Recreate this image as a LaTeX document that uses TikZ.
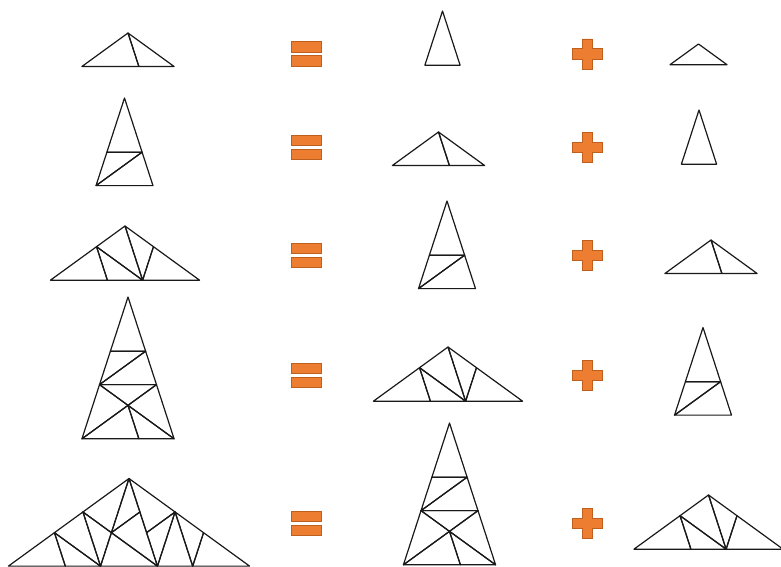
\documentclass[tikz,border=0pt]{standalone}
\usepackage{tikz}
\usetikzlibrary{calc}
\definecolor{signfill}{HTML}{ED7D31}
\definecolor{signdraw}{HTML}{BE5F1E}

% golden triangle: level, apex, base corner, base corner
\newcommand{\goldtri}[4]{%
  \ifnum#1<3\relax
    \draw[tri] (#2) -- (#3) -- (#4) -- cycle;%
  \else
    \coordinate (e#1) at ($(#2)!0.618034!(#4)$);%
    \expandafter\gnomontri\expandafter{\the\numexpr#1-1\relax}{e#1}{#2}{#3}%
    \expandafter\goldtri\expandafter{\the\numexpr#1-2\relax}{#3}{#4}{e#1}%
  \fi}

% golden gnomon: level, apex, base corner, base corner
\newcommand{\gnomontri}[4]{%
  \ifnum#1<3\relax
    \draw[tri] (#2) -- (#3) -- (#4) -- cycle;%
  \else
    \coordinate (d#1) at ($(#3)!0.618034!(#4)$);%
    \expandafter\goldtri\expandafter{\the\numexpr#1-1\relax}{#3}{d#1}{#2}%
    \expandafter\gnomontri\expandafter{\the\numexpr#1-2\relax}{d#1}{#4}{#2}%
  \fi}

% name, level, centre x, apex y
\newcommand{\placetri}[4]{%
  \ifcase#2\or\def\triB{28.48}\def\triH{20.69}%
  \or\def\triB{17.6}\def\triH{54.17}%
  \or\def\triB{46.08}\def\triH{33.48}%
  \or\def\triB{28.48}\def\triH{87.64}%
  \or\def\triB{74.55}\def\triH{54.17}%
  \or\def\triB{46.08}\def\triH{141.81}%
  \or\def\triB{120.63}\def\triH{87.64}\fi
  \coordinate (#1a) at (#3,#4);
  \coordinate (#1l) at (#3-\triB,#4+\triH);
  \coordinate (#1r) at (#3+\triB,#4+\triH);
  \ifodd#2\relax\gnomontri{#2}{#1a}{#1l}{#1r}\else\goldtri{#2}{#1a}{#1l}{#1r}\fi}

\begin{document}
\begin{tikzpicture}[x=1pt, y=-1pt,
    tri/.style={draw=black!90, line width=1.2pt, line join=round},
    sign/.style={fill=signfill, draw=signdraw, line width=0.8pt}]
    \useasboundingbox (0,0) rectangle (781,567);

    % row 1
    \placetri{a1}{3}{128}{33}
    \placetri{b1}{2}{442.5}{11}
    \placetri{c1}{1}{698.5}{44}
    % row 2
    \placetri{a2}{4}{124.5}{98}
    \placetri{b2}{3}{438.5}{132}
    \placetri{c2}{2}{699}{110}
    % row 3
    \placetri{a3}{5}{125}{226}
    \placetri{b3}{4}{447}{201}
    \placetri{c3}{3}{711}{240}
    % row 4
    \placetri{a4}{6}{128}{297}
    \placetri{b4}{5}{448}{347}
    \placetri{c4}{4}{703}{327.5}
    % row 5
    \placetri{a5}{7}{129}{478.5}
    \placetri{b5}{6}{449.5}{423}
    \placetri{c5}{5}{708.5}{495}

    % equals and plus signs
    \foreach \yc in {54,147.5,255.5,375.5,523.5} {
        \draw[sign] (291.7,\yc-12.3) rectangle (321.7,\yc-1.7);
        \draw[sign] (291.7,\yc+1.7) rectangle (321.7,\yc+12.1);
        \begin{scope}[shift={(587.3,\yc)}]
            \draw[sign] (-5.15,-15) -- (5.15,-15) -- (5.15,-5.15) -- (15,-5.15)
                -- (15,5.15) -- (5.15,5.15) -- (5.15,15) -- (-5.15,15)
                -- (-5.15,5.15) -- (-15,5.15) -- (-15,-5.15) -- (-5.15,-5.15) -- cycle;
        \end{scope}
    }
\end{tikzpicture}
\end{document}
